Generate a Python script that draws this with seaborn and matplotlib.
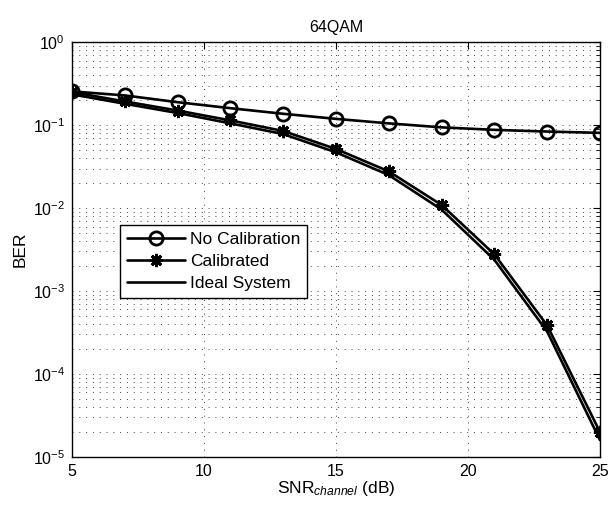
import numpy as np
import pandas as pd
import matplotlib
matplotlib.use("Agg")
import matplotlib.pyplot as plt
import seaborn as sns
from matplotlib.ticker import LogLocator, FixedLocator, NullFormatter

snr = [5, 7, 9, 11, 13, 15, 17, 19, 21, 23, 25]
no_cal = [0.255, 0.228, 0.189, 0.160, 0.137, 0.119, 0.105, 0.094, 0.0877, 0.0837, 0.0807]
calibrated = [0.25, 0.193, 0.150, 0.114, 0.085, 0.0516, 0.0277, 0.0109, 0.00277, 3.85e-4, 2.0e-5]
ideal = [0.235, 0.181, 0.140, 0.105, 0.078, 0.047, 0.0250, 0.0096, 0.00238, 3.25e-4, 1.6e-5]
series_names = ["No Calibration", "Calibrated", "Ideal System"]
x_ticks = [5, 10, 15, 20, 25]

sns.set_style("white")
plt.rcParams['font.family'] = ['Liberation Sans', 'DejaVu Sans']
plt.rcParams['mathtext.fontset'] = 'custom'
plt.rcParams['mathtext.rm'] = 'Liberation Sans'
plt.rcParams['mathtext.it'] = 'Liberation Sans:italic'
for k in ['text.color', 'axes.labelcolor', 'xtick.color', 'ytick.color']:
    plt.rcParams[k] = 'black'

df = pd.DataFrame({
    "SNR": snr * 3,
    "BER": no_cal + calibrated + ideal,
    "Series": [series_names[0]] * len(snr) + [series_names[1]] * len(snr) + [series_names[2]] * len(snr),
})

fig = plt.figure(figsize=(6.08, 5.08), dpi=100)
ax = fig.add_axes([0.1184, 0.1004, 0.8684, 0.8166])

markers = {"No Calibration": "o", "Calibrated": (8, 2, 0), "Ideal System": None}
for name in series_names:
    sub = df[df["Series"] == name]
    m = markers[name]
    sns.lineplot(data=sub, x="SNR", y="BER", ax=ax, color="black", linewidth=1.9,
                 marker=m, markersize=9.5,
                 markerfacecolor="none", markeredgecolor="black",
                 markeredgewidth=2.0, label=name, legend=False)

ax.set_yscale("log")
ax.set_xlim(5, 25)
ax.set_ylim(1e-5, 1)
ax.xaxis.set_major_locator(FixedLocator(x_ticks))
ax.yaxis.set_major_locator(LogLocator(base=10, numticks=10))
ax.yaxis.set_minor_locator(LogLocator(base=10, subs=np.arange(2, 10), numticks=20))
ax.yaxis.set_minor_formatter(NullFormatter())

ax.grid(True, which="major", axis="both", color="#444444", linestyle=(0, (1, 6)), linewidth=0.7)
ax.grid(True, which="minor", axis="y", color="#444444", linestyle=(0, (1, 6)), linewidth=0.7)

for s in ax.spines.values():
    s.set_color("black")
    s.set_linewidth(1.0)
ax.tick_params(which="both", direction="in", top=True, right=True, color="black",
               labelcolor="black", labelsize=11.5, pad=5)
ax.tick_params(which="major", length=5)
ax.tick_params(which="minor", length=3)

ax.set_title("64QAM", fontsize=11.5, pad=7, color="black")
ax.set_xlabel(r"SNR$_{\mathit{channel}}$ (dB)", fontsize=12.5, labelpad=0, color="black")
ax.set_ylabel("BER", fontsize=12.5, labelpad=4, color="black")

leg = ax.legend(loc="lower left", bbox_to_anchor=(0.075, 0.362), frameon=True,
                fontsize=12.5, handlelength=3.3, borderpad=0.4, labelspacing=0.4,
                handletextpad=0.3, fancybox=False, framealpha=1)
leg.get_frame().set_edgecolor("black")
leg.get_frame().set_linewidth(1.0)
for t in leg.get_texts():
    t.set_color("black")

fig.savefig("out.png", dpi=100)
